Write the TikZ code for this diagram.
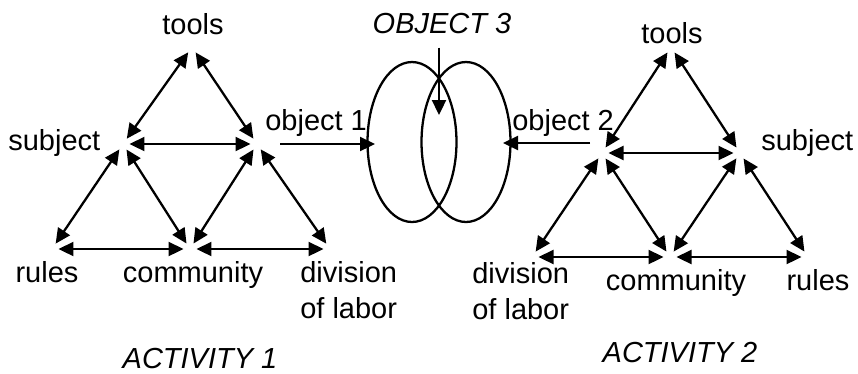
\documentclass[tikz,border=0pt]{standalone}
\usepackage{fontspec}
\setmainfont{Liberation Sans}
\usetikzlibrary{arrows.meta,shapes.geometric}

\begin{document}
\begin{tikzpicture}[x=0.02cm, y=-0.02cm,
    font=\fontsize{16.5}{20.5}\selectfont,
    lbl/.style={inner sep=0pt, anchor=base},
    link/.style={{Triangle[length=0.3cm,width=0.28cm]}-{Triangle[length=0.3cm,width=0.28cm]},
        line width=1.3pt, shorten <=0.13cm, shorten >=0.13cm},
    arr/.style={-{Triangle[length=0.3cm,width=0.28cm]}, line width=1.3pt},
    oval/.style={ellipse, draw, line width=1.3pt, inner sep=0pt,
        minimum width=1.78cm, minimum height=3.2cm}]
    \useasboundingbox (0,0) rectangle (858,373);

    % Activity 1 (left triangle)
    \coordinate (tools1v) at (192,47);
    \coordinate (subj1v) at (123,144);
    \coordinate (obj1v) at (257,144);
    \coordinate (rules1v) at (52,249);
    \coordinate (comm1v) at (190,249);
    \coordinate (div1v) at (330,249);
    \node[lbl] (tools1) at (193,34) {tools};
    \node[lbl, anchor=base west] (subj1) at (8,150) {subject};
    \node[lbl, anchor=base west] (obj1) at (265,130) {object 1};
    \node[lbl] (rules1) at (47,282) {rules};
    \node[lbl] (comm1) at (193,282) {community};
    \node[lbl, anchor=north west, align=left] (div1) at (300,261) {division\\of labor};
    \node[lbl] (act1) at (200,368) {\itshape ACTIVITY 1};
    \draw[link] (subj1v) -- (tools1v);
    \draw[link] (obj1v) -- (tools1v);
    \draw[link] (subj1v) -- (obj1v);
    \draw[link] (subj1v) -- (rules1v);
    \draw[link] (subj1v) -- (comm1v);
    \draw[link] (obj1v) -- (comm1v);
    \draw[link] (obj1v) -- (div1v);
    \draw[link] (rules1v) -- (comm1v);
    \draw[link] (comm1v) -- (div1v);

    % shared object (two ovals)
    \node[oval] (ell1) at (412,142) {};
    \node[oval] (ell2) at (466,142) {};
    \node[lbl] (obj3) at (442,33) {\itshape OBJECT 3};
    \coordinate (o3tip) at (439,115);
    \draw[arr, shorten <=0.28cm] (obj3.south -| o3tip) -- (o3tip);
    \coordinate (o1tip) at (375,144);
    \draw[arr, shorten <=0.46cm] (obj1v) -- (o1tip);
    \coordinate (o2tail) at (590,143);
    \coordinate (o2tip) at (503,143);
    \draw[arr] (o2tail) -- (o2tip);

    % Activity 2 (right triangle)
    \coordinate (tools2v) at (671,47);
    \coordinate (obj2v) at (602,153);
    \coordinate (subj2v) at (740,153);
    \coordinate (div2v) at (532,257);
    \coordinate (comm2v) at (670,257);
    \coordinate (rules2v) at (808,257);
    \node[lbl] (tools2) at (672,43) {tools};
    \node[lbl, anchor=base west] (subj2) at (761,150) {subject};
    \node[lbl, anchor=base west] (obj2) at (512,130) {object 2};
    \node[lbl] (comm2) at (676,290) {community};
    \node[lbl] (rules2) at (818,290) {rules};
    \node[lbl, anchor=north west, align=left] (div2) at (472,262) {division\\of labor};
    \node[lbl] (act2) at (680,362) {\itshape ACTIVITY 2};
    \draw[link] (obj2v) -- (tools2v);
    \draw[link] (subj2v) -- (tools2v);
    \draw[link] (obj2v) -- (subj2v);
    \draw[link] (obj2v) -- (div2v);
    \draw[link] (obj2v) -- (comm2v);
    \draw[link] (subj2v) -- (comm2v);
    \draw[link] (subj2v) -- (rules2v);
    \draw[link] (div2v) -- (comm2v);
    \draw[link] (comm2v) -- (rules2v);
\end{tikzpicture}
\end{document}
